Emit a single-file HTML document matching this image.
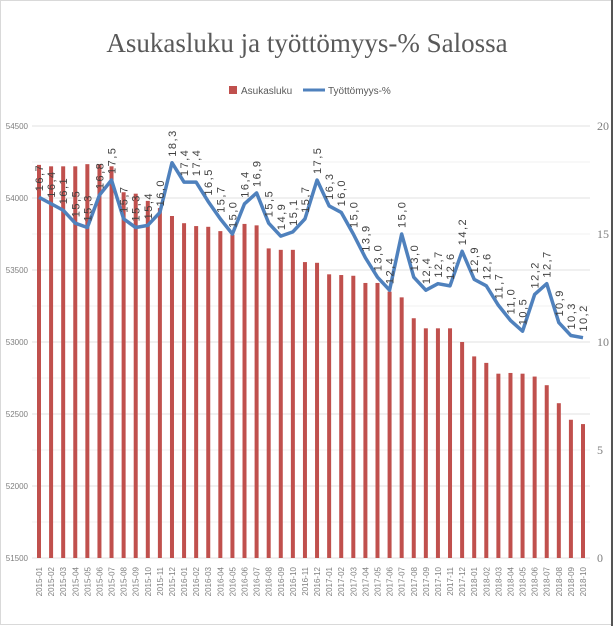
<!DOCTYPE html>
<html><head><meta charset="utf-8"><style>
body{margin:0;background:#fff;}
svg{display:block;font-family:"Liberation Sans",sans-serif;}
</style></head><body>
<svg id="chart" width="615" height="626" viewBox="0 0 615 626">
<rect x="0.5" y="0.5" width="612" height="624" fill="#fff" stroke="#d9d9d9"/>
<line x1="612" y1="0" x2="612" y2="626" stroke="#555" stroke-width="2"/>
<text x="307" y="52" text-anchor="middle" font-family="Liberation Serif,serif" font-size="27" fill="#595959">Asukasluku ja työttömyys-% Salossa</text>
<g>
<rect x="229" y="86" width="8" height="8" fill="#c0504d"/>
<text x="241" y="94" font-size="10" fill="#595959">Asukasluku</text>
<line x1="303" y1="90" x2="325" y2="90" stroke="#4f81bd" stroke-width="3"/>
<text x="328" y="94" font-size="10" fill="#595959">Työttömyys-%</text>
</g>
<g id="grid"></g><g id="bars"></g><g id="line"></g><g id="labels"></g><g id="axes"></g>
</svg>
<script>
const categories=[];
for(let y=2015;y<=2018;y++)for(let m=1;m<=12;m++){if(y===2018&&m>10)break;categories.push(y+'-'+String(m).padStart(2,'0'));}
const population=[54230,54220,54220,54220,54235,54235,54220,54040,54030,53980,53930,53875,53825,53805,53800,53770,53745,53820,53810,53650,53640,53640,53555,53550,53470,53465,53460,53410,53410,53350,53310,53165,53095,53095,53095,53000,52900,52855,52780,52785,52780,52760,52700,52575,52460,52430];
const unemployment=[16.7,16.4,16.1,15.5,15.3,16.8,17.5,15.7,15.3,15.4,16.0,18.3,17.4,17.4,16.5,15.7,15.0,16.4,16.9,15.5,14.9,15.1,15.7,17.5,16.3,16.0,15.0,13.9,13.0,12.4,15.0,13.0,12.4,12.7,12.6,14.2,12.9,12.6,11.7,11.0,10.5,12.2,12.7,10.9,10.3,10.2];
const leftTicks=[51500,52000,52500,53000,53500,54000,54500];
const rightTicks=[0,5,10,15,20];
(function(){
const NS='http://www.w3.org/2000/svg';
const plotTop=126,plotBot=558,x0=39,dx=(583-39)/45;
const yL=v=>plotBot-(v-51500)/3000*(plotBot-plotTop);
const yR=v=>plotBot-v/20*(plotBot-plotTop);
const xC=i=>x0+i*dx;
function mk(t,a,p){const e=document.createElementNS(NS,t);for(const k in a)e.setAttribute(k,a[k]);document.getElementById(p).appendChild(e);return e;}
for(let v=51500;v<=54500;v+=250){const l=mk('line',{x1:32,x2:590,y1:yL(v),y2:yL(v),stroke:v%500?'#f0f0f0':'#e0e0e0'},'grid');

}
leftTicks.forEach(v=>{const t=mk('text',{x:28,y:yL(v)+3,'text-anchor':'end','font-size':'8','fill':'#7f7f7f'},'axes');t.textContent=v;

});
rightTicks.forEach(v=>{const t=mk('text',{x:597,y:yR(v)+4,'font-size':'12','fill':'#7f7f7f','font-family':'Liberation Serif,serif'},'axes');t.textContent=v;

});
categories.forEach((c,i)=>{const x=xC(i);
const r=mk('rect',{x:x-2,y:yL(population[i]),width:4,height:plotBot-yL(population[i]),fill:'#c0504d'},'bars');


const t=mk('text',{transform:`translate(${x+3},567) rotate(-90)`,'text-anchor':'end','font-size':'8','fill':'#7f7f7f'},'axes');t.textContent=c;


const lb=mk('text',{transform:`translate(${x+4},${yR(unemployment[i])-6}) rotate(-90)`,'font-size':'11','fill':'#404040','letter-spacing':'1.5'},'labels');lb.textContent=unemployment[i].toFixed(1).replace('.',',');

});
const p=mk('polyline',{points:unemployment.map((v,i)=>xC(i)+','+yR(v)).join(' '),fill:'none',stroke:'#4f81bd','stroke-width':'3.5','stroke-linejoin':'round'},'line');


})();
</script>
</body></html>
